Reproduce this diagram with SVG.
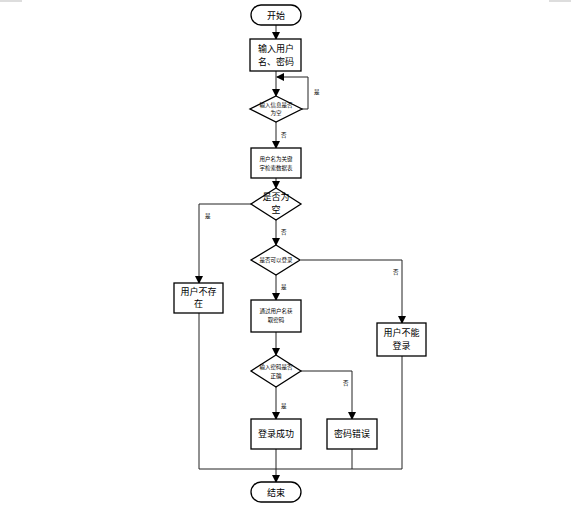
<svg xmlns="http://www.w3.org/2000/svg" width="575" height="507" viewBox="0 0 575 507">
<defs>
<marker id="ah" markerWidth="8" markerHeight="8" refX="7" refY="4" orient="auto" markerUnits="userSpaceOnUse">
<path d="M0,0 L8,4 L0,8 Z" fill="#000"/>
</marker>
<style>
.s{fill:#fff;stroke:#000;stroke-width:1.3}
.c{fill:none;stroke:#222;stroke-width:1}
.t{font-family:"Noto Sans CJK SC","Liberation Sans",sans-serif;font-size:9px;fill:#000;text-anchor:middle}
.m{font-family:"Noto Sans CJK SC","Liberation Sans",sans-serif;font-size:5.5px;fill:#000;text-anchor:middle}
.l{font-family:"Noto Sans CJK SC","Liberation Sans",sans-serif;font-size:5.5px;fill:#000}
</style>
</defs>
<rect width="575" height="507" fill="#fff"/>
<line x1="0" y1="1" x2="22" y2="1" stroke="#bbb"/>
<line x1="549" y1="1" x2="571" y2="1" stroke="#bbb"/>
<g id="connectors">
<path class="c" d="M276,25 V39" marker-end="url(#ah)"/>
<path class="c" d="M276,71 V96" marker-end="url(#ah)"/>
<path class="c" d="M302,109 H308 V77 H277" marker-end="url(#ah)"/>
<path class="c" d="M276,122 V148" marker-end="url(#ah)"/>
<path class="c" d="M276,178 V188" marker-end="url(#ah)"/>
<path class="c" d="M251,204 H199 V283" marker-end="url(#ah)"/>
<path class="c" d="M276,220 V245" marker-end="url(#ah)"/>
<path class="c" d="M301,260 H402 V323" marker-end="url(#ah)"/>
<path class="c" d="M276,275 V300" marker-end="url(#ah)"/>
<path class="c" d="M276,332 V355" marker-end="url(#ah)"/>
<path class="c" d="M301,371 H352 V419" marker-end="url(#ah)"/>
<path class="c" d="M276,387 V419" marker-end="url(#ah)"/>
<path class="c" d="M276,449 V482" marker-end="url(#ah)"/>
<path class="c" d="M199,313 V469 H402 V356"/>
<path class="c" d="M352,449 V469"/>
<text class="l" x="314" y="94">是</text>
<text class="l" x="281" y="137">否</text>
<text class="l" x="205" y="218">是</text>
<text class="l" x="281" y="234">否</text>
<text class="l" x="393" y="274">否</text>
<text class="l" x="281" y="289">是</text>
<text class="l" x="343" y="385">否</text>
<text class="l" x="281" y="408">是</text>
</g>
<g id="start"><rect class="s" x="251" y="5" width="50" height="20" rx="10"/><text class="t" x="276" y="18.5">开始</text></g>
<g id="input"><rect class="s" x="250" y="39" width="51" height="32"/><text class="t" x="276" y="52">输入用户</text><text class="t" x="276" y="65">名、密码</text></g>
<g id="d1"><path class="s" d="M276,96 L302,109 L276,122 L250,109 Z"/><text class="m" x="276" y="107">输入信息是否</text><text class="m" x="276" y="115">为空</text></g>
<g id="search"><rect class="s" x="251" y="148" width="50" height="30"/><text class="m" x="276" y="161">用户名为关键</text><text class="m" x="276" y="170">字检索数据表</text></g>
<g id="d2"><path class="s" d="M276,188 L301,204 L276,220 L251,204 Z"/><text class="t" x="276" y="199.5">是否为</text><text class="t" x="276" y="213">空</text></g>
<g id="noexist"><rect class="s" x="174" y="283" width="49" height="30"/><text class="t" x="198.5" y="295">用户不存</text><text class="t" x="198.5" y="307">在</text></g>
<g id="d3"><path class="s" d="M276,245 L300,260 L276,275 L251,260 Z"/><text class="m" x="276" y="262">是否可以登录</text></g>
<g id="getpwd"><rect class="s" x="251" y="300" width="50" height="32"/><text class="m" x="276" y="313">通过用户名获</text><text class="m" x="276" y="322">取密码</text></g>
<g id="cannot"><rect class="s" x="377" y="323" width="49" height="33"/><text class="t" x="401.5" y="336">用户不能</text><text class="t" x="401.5" y="349">登录</text></g>
<g id="d4"><path class="s" d="M276,355 L301,371 L276,387 L251,371 Z"/><text class="m" x="276" y="369">输入密码是否</text><text class="m" x="276" y="378">正确</text></g>
<g id="ok"><rect class="s" x="251" y="419" width="50" height="30"/><text class="t" x="276" y="437">登录成功</text></g>
<g id="wrong"><rect class="s" x="327" y="419" width="50" height="30"/><text class="t" x="352" y="437">密码错误</text></g>
<g id="end"><rect class="s" x="251" y="482" width="50" height="20" rx="10"/><text class="t" x="276" y="495.5">结束</text></g>
</svg>
